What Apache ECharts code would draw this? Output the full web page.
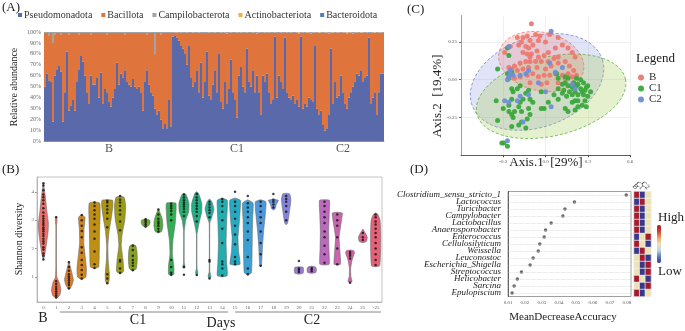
<!DOCTYPE html>
<html>
<head>
<meta charset="utf-8">
<script src="https://cdn.jsdelivr.net/npm/echarts@6/dist/echarts.min.js"></script>
<style>
  html, body { margin: 0; padding: 0; background: #fff; }
  #chart { width: 685px; height: 331px; }
</style>
</head>
<body>
<div id="chart"></div>
<script>
var SERIF = "'Liberation Serif', 'Times New Roman', serif";

// ---------- (A) relative abundance per sample (%) ----------
var phylumNames = ['Pseudomonadota', 'Bacillota', 'Campilobacterota', 'Actinobacteriota', 'Bacteroidota'];
var groupNames = ['B', 'C1', 'C2'];

var pseudoB = [50,62,56,55,18,60,66,69,64,18,
  45,82,28,33,38,28,55,66,78,73,
  60,45,35,60,52,52,58,40,63,35,
  48,45,36,32,40,48,72,52,62,58,
  65,55,52,50,57,50,48,50,45,28,
  55,65,52,45,42,30,25,28,20,12,
  16,12,38,14];
var pseudoC1 = [96,97,95,92,88,85,80,70,88,58,
  50,55,65,45,72,40,55,82,42,38,
  52,65,45,80,36,30,55,35,48,75,
  45,38,22,60,68,50,45,85,55,50,
  65,45,60,45,25,60,55,62,45,35,
  38,96,40,60,55,48,95,45,40,38,
  42,35,38,32,96];
var pseudoC2 = [30,35,32,40,38,36,88,30,25,28,
  15,10,12,25,85,35,55,40,42,60,
  45,35,30,40,45,50,55,62,60,65,
  55,58,60,95,35,40,45,25,45,62,
  62];

var campiloB = [1,1,3,1,10,2,1,1,2,1,
  1,1,2,1,1,1,1,2,1,1,
  1,1,1,2,1,1,1,1,1,1,
  1,2,1,1,1,1,1,1,1,1,
  2,1,1,1,1,1,1,1,1,1,
  1,2,1,1,1,20,1,1,2,1,
  1,1,1,1];
var campiloC1 = [1,0.5,0.5,1,0.5,1,1,0.5,1,1,
  0.5,1,1,0.5,1,0.5,1,1,0.5,1,
  1,0.5,1,1,0.5,1,0.5,1,1,0.5,
  1,1,0.5,1,0.5,1,1,0.5,1,1,
  0.5,1,1,0.5,1,1,0.5,1,0.5,1,
  1,0.5,1,1,0.5,1,1,0.5,1,0.5,
  1,1,0.5,1,1];
var campiloC2 = [0.5,1,0.5,0.5,1,0.5,0.5,1,0.5,0.5,
  1,0.5,0.5,1,0.5,0.5,1,0.5,0.5,1,
  0.5,0.5,1,0.5,0.5,1,0.5,0.5,1,0.5,
  0.5,1,0.5,0.5,1,0.5,0.5,1,0.5,0.5,
  1];

var actinoB = [0,0,0,0,0,0,0,0,0,0, 0,0,0,0,0,0,0,0,0,0, 0,0,0,0,0,0,0,0,0,0,
  0,0,0,0,0,0,0,0,0,0, 0,0,0,0,0,0,0,0,0,0, 0,0,0,0,0,0,0,0,0,0, 0,0,0,0];
var actinoC1 = [0,0,0,0,0,0,0,0,0,0, 0,0,0,0,0,0,0,0,0,0, 0,0,0,0,0,0,0,0,0,0,
  0,0,0,0,0,0,0,0,0,0, 0,0,0,0,0,0,0,0,0,0, 0,0,0,0,0,0,0,0,0,0, 0,0,0,0.5,0];
var actinoC2 = [0,0,0.5,0,0,0,0,0,0.5,0, 0,0,0,0,0,0.5,0,0,0,0,
  0,0,0.5,0,0,0,0,0,0,0.5, 0,0,0,0,0,0,0.5,0,0,0, 0];
var bacteroB = [0,0,0,0,0,0,0,0,0,0, 0,0,0,0,0,0,0,0,0,0, 0,0,0,0,0,0,0,0,0,0,
  0,0,0,0,0,0,0,0,0,0, 0,0,0,0,0,0,0,0,0,0, 0,0,0,0,0,0,0,0,0,0, 0,0,0,0];
var bacteroC1 = [0,0,0,0,0,0,0,0,0,0, 0,0,0,0,0,0.5,0,0,0,0, 0,0,0,0,0,0,0,0.5,0,0,
  0,0,0,0,0,0,0,0,0,0, 0,0,0.5,0,0,0,0,0,0,0, 0,0,0,0,0,0,0,0,0,0, 0,0,0,0,0];
var bacteroC2 = [0,0,0,0,0.5,0,0,0,0,0, 0,0,0,0.5,0,0,0,0,0,0,
  0,0,0,0,0,0.5,0,0,0,0, 0,0,0,0.5,0,0,0,0,0,0, 0];

// ---------- (B) Shannon diversity by day ----------
var days = ['0','1','2','3','4','5','6','7','8','9','10','11','12','13','14','15','16','17','18','19','20','21','22','23','24','25','>25'];
// violin outline: [shannon value, relative half width]
var violinProfiles = [
  [[1.6,0],[1.8,0.25],[2.2,0.55],[2.6,0.8],[2.9,0.85],[3.3,0.6],[3.8,0.35],[4.1,0.15],[4.3,0]],
  [[0.25,0],[0.35,0.6],[0.55,0.8],[0.8,0.55],[1.0,0.12],[1.5,0.05],[2.8,0.05],[3.0,0.15],[3.15,0]],
  [[0.55,0],[0.7,0.5],[0.9,0.75],[1.1,0.55],[1.35,0.25],[1.55,0]],
  [[0.9,0],[1.0,0.7],[1.3,0.8],[1.7,0.6],[2.2,0.35],[2.7,0.4],[3.1,0.55],[3.2,0]],
  [[1.3,0],[1.35,0.7],[1.8,0.8],[2.5,0.85],[3.2,0.95],[3.6,0.9],[3.65,0]],
  [[0.75,0],[0.85,0.3],[1.1,0.35],[1.6,0.15],[2.1,0.1],[2.6,0.3],[3.1,0.7],[3.5,0.95],[3.7,0.9],[3.72,0]],
  [[1.1,0],[1.2,0.6],[1.6,0.5],[2.1,0.2],[2.5,0.35],[3.0,0.8],[3.5,0.95],[3.8,0.7],[3.85,0]],
  [[1.2,0],[1.3,0.6],[1.6,0.75],[1.9,0.7],[2.1,0.5],[2.15,0]],
  [[2.75,0],[2.8,0.5],[2.9,0.75],[3.0,0.7],[3.05,0]],
  [[2.55,0],[2.6,0.55],[2.8,0.75],[3.0,0.7],[3.2,0.4],[3.4,0]],
  [[1.05,0],[1.1,0.45],[1.4,0.45],[1.8,0.2],[2.3,0.3],[2.9,0.7],[3.4,0.85],[3.6,0.8],[3.62,0]],
  [[1.3,0],[1.35,0.2],[1.5,0.05],[2.6,0.05],[3.0,0.3],[3.3,0.8],[3.6,0.85],[3.9,0.35],[3.95,0]],
  [[1.05,0],[1.15,0.2],[1.3,0.05],[2.5,0.05],[2.9,0.4],[3.3,0.85],[3.6,0.85],[3.95,0.3],[4.0,0]],
  [[0.95,0],[1.0,0.25],[1.2,0.05],[2.9,0.05],[3.1,0.4],[3.4,0.75],[3.65,0.4],[3.75,0]],
  [[1.0,0],[1.05,0.85],[1.5,0.75],[2.2,0.65],[3.0,0.75],[3.7,0.85],[3.78,0]],
  [[1.42,0],[1.45,0.85],[1.9,0.6],[2.4,0.5],[3.0,0.75],[3.7,0.9],[3.78,0]],
  [[1.07,0],[1.15,0.6],[1.6,0.7],[2.3,0.75],[3.0,0.8],[3.6,0.9],[3.72,0]],
  [[1.36,0],[1.4,0.15],[2.0,0.3],[2.6,0.5],[3.2,0.8],[3.65,0.9],[3.72,0]],
  [[3.36,0],[3.4,0.3],[3.55,0.5],[3.7,0.85],[3.74,0]],
  [[2.84,0],[2.9,0.25],[3.3,0.55],[3.7,0.8],[3.92,0.6],[3.95,0]],
  [[1.1,0],[1.13,0.7],[1.25,0.8],[1.34,0.7],[1.36,0]],
  [[1.13,0],[1.16,0.7],[1.28,0.8],[1.36,0.6],[1.38,0]],
  [[1.42,0],[1.45,0.8],[2.0,0.75],[2.6,0.7],[3.2,0.8],[3.7,0.85],[3.72,0]],
  [[1.42,0],[1.45,0.55],[1.9,0.45],[2.4,0.3],[2.9,0.65],[3.25,0.85],[3.28,0]],
  [[0.78,0],[0.85,0.35],[1.0,0.15],[1.3,0.1],[1.6,0.35],[1.85,0.75],[1.93,0.6],[1.95,0]],
  [[2.21,0],[2.25,0.6],[2.4,0.75],[2.55,0.4],[2.69,0]],
  [[1.36,0],[1.4,0.7],[2.0,0.85],[2.6,0.85],[3.0,0.75],[3.2,0.4],[3.25,0]]
];
var shannonPoints = [
  [1.62,1.75,1.83,1.97,2.05,2.18,2.26,2.35,2.44,2.52,2.61,2.68,2.74,2.83,2.9,2.98,3.06,3.15,3.27,3.42,3.58,3.7,3.81,3.9,4.05,4.22,4.3],
  [0.28,0.35,0.42,0.5,0.58,0.66,0.75,0.85,3.1],
  [0.6,0.72,0.8,0.88,0.95,1.02,1.1,1.22,1.35,1.52],
  [0.95,1.08,1.25,1.42,1.6,1.85,2.05,2.4,2.62,2.8,3.0,3.18],
  [1.32,1.45,1.9,2.35,2.6,2.85,3.05,3.2,3.35,3.5,3.62],
  [0.78,0.95,1.1,2.75,3.05,3.25,3.38,3.5,3.62,3.68],
  [1.15,1.3,1.55,1.6,2.65,2.95,3.2,3.35,3.5,3.62,3.72,3.85],
  [1.25,1.4,1.5,1.6,1.75,1.95,2.1],
  [2.78,2.85,2.92,2.98,3.03],
  [2.6,2.7,2.8,2.88,2.95,3.05,3.2,3.38],
  [1.08,1.15,1.35,1.6,3.0,3.2,3.32,3.42,3.5,3.58],
  [1.08,1.35,3.15,3.3,3.4,3.48,3.55,3.62,3.7,3.8,3.9],
  [1.07,2.95,3.15,3.3,3.4,3.5,3.6,3.7,3.8,3.92],
  [0.95,1.55,1.6,3.1,3.25,3.35,3.45,3.55,3.65],
  [1.05,1.3,1.45,1.55,2.2,2.7,3.0,3.3,3.5,3.65,3.75],
  [1.45,1.55,1.7,2.15,2.5,2.8,3.05,3.3,3.5,3.65,4.0],
  [1.1,1.3,1.7,2.3,2.6,2.9,3.1,3.3,3.45,3.6,3.85],
  [1.4,1.8,2.2,2.6,2.9,3.1,3.3,3.5,3.65],
  [3.45,3.55,3.65,3.72,3.92],
  [3.0,3.3,3.5,3.65,3.75,3.85],
  [1.18,1.25,1.3,1.56],
  [1.2,1.26,1.32],
  [1.5,1.8,2.1,2.4,2.6,2.9,3.1,3.3,3.5,3.65],
  [1.45,2.0,2.4,2.8,3.0,3.2],
  [0.8,1.65,1.75,1.82,1.88],
  [2.3,2.4,2.55],
  [1.42,1.6,1.8,2.0,2.2,2.4,2.55,2.7,2.85,2.95,3.1,3.2]
];

// ---------- (C) PCoA ----------
var pcoaB = [[-0.10,0.37],[-0.20,0.28],[-0.16,0.28],[-0.13,0.29],[-0.07,0.30],[-0.04,0.29],[0.03,0.30],[0.09,0.28],
  [-0.17,0.25],[-0.11,0.26],[-0.05,0.26],[0.00,0.25],[-0.19,0.23],[-0.14,0.22],[-0.12,0.21],[-0.09,0.23],
  [-0.06,0.19],[-0.10,0.17],[-0.13,0.17],[-0.16,0.18],[-0.11,0.15],[-0.05,0.15],[-0.01,0.16],[0.02,0.18],
  [0.07,0.21],[0.12,0.23],[0.16,0.21],[0.19,0.18],[0.21,0.15],[0.09,0.15],[0.06,0.14],[0.02,0.12],
  [-0.03,0.12],[-0.07,0.12],[-0.11,0.12],[-0.14,0.12],[-0.18,0.11],[-0.22,0.09],[-0.24,0.07],[-0.20,0.06],
  [-0.16,0.07],[-0.12,0.08],[-0.06,0.08],[0.00,0.07],[0.04,0.09],[0.09,0.11],[0.14,0.12],[0.17,0.09],
  [0.20,0.06],[0.16,0.04],[0.12,0.03],[0.07,0.04],[0.03,0.03],[-0.01,0.03],[-0.05,0.02],[-0.09,0.04],
  [-0.13,0.03],[-0.18,0.02],[-0.22,0.01],[-0.24,0.04],[-0.26,0.08],[-0.29,0.18],[-0.25,0.22],[0.01,-0.02],
  [-0.03,-0.03],[-0.11,-0.02],[0.09,-0.02],[0.14,0.01],[0.19,0.02],[0.22,0.03]];
var pcoaC1 = [[-0.34,0.07],[-0.35,-0.14],[-0.34,-0.27],[-0.30,-0.19],[-0.26,-0.17],[-0.26,-0.21],[-0.24,-0.13],
  [-0.23,-0.08],[-0.20,-0.06],[-0.24,-0.23],[-0.23,-0.25],[-0.22,-0.21],[-0.19,-0.18],[-0.18,-0.15],[-0.16,-0.13],
  [-0.14,-0.09],[-0.17,-0.21],[-0.12,-0.19],[-0.11,-0.23],[-0.13,-0.26],[-0.17,-0.28],[-0.19,-0.30],[-0.24,-0.31],
  [-0.14,-0.32],[-0.11,-0.13],[-0.09,-0.15],[-0.03,-0.19],[0.02,-0.15],[0.09,-0.13],[-0.24,-0.06],[-0.26,0.01],
  [-0.27,0.04],[-0.24,0.05],[-0.26,0.16],[-0.27,0.21],[-0.18,-0.04],[-0.12,-0.07],[-0.03,-0.08],
  [-0.31,-0.42],[-0.295,-0.42],[-0.27,-0.44],
  [0.09,0.01],[0.12,-0.03],[0.14,-0.02],[0.16,-0.04],[0.19,-0.05],[0.20,-0.06],[0.17,-0.08],[0.21,-0.08],
  [0.22,-0.04],[0.23,-0.03],[0.25,-0.06],[0.26,-0.08],[0.27,-0.10],[0.28,-0.07],[0.29,-0.05],[0.30,-0.11],
  [0.28,-0.14],[0.26,-0.17],[0.23,-0.18],[0.21,-0.20],[0.16,-0.21],[0.14,-0.19],[0.19,-0.15],[0.15,-0.11],
  [0.12,-0.09],[0.21,-0.14],[0.23,-0.10],[0.20,-0.02],[0.16,0.01],[0.30,-0.04],[0.27,-0.02],[0.25,0.00],
  [0.22,0.01],[0.14,0.02],[0.09,-0.06],[0.08,0.04],[0.13,-0.07],[0.19,-0.10],[0.23,-0.14],[0.29,-0.18],
  [0.32,-0.08],[-0.01,-0.19],[0.06,-0.10]];
var pcoaC2 = [[0.04,0.32],[-0.26,0.22],[-0.25,0.04],[-0.26,0.02],[-0.23,0.03],[-0.18,0.03],[-0.14,0.04],
  [-0.12,0.06],[-0.05,-0.02],[0.03,0.11],[0.12,0.08],[0.07,0.05],[0.19,-0.03],[0.21,-0.06],[0.00,-0.08],
  [-0.29,-0.14],[-0.26,-0.15],[-0.20,-0.14],[-0.18,-0.11],[-0.12,-0.10],[0.04,-0.18],[-0.16,-0.28],
  [-0.27,-0.405],[-0.27,0.00],[-0.25,0.06]];
// confidence ellipses: [centre x, centre y, semi-major, semi-minor, angle in degrees]
var ellipseC2 = [-0.06, -0.015, 0.487, 0.30, 17];
var ellipseC1 = [0.04, -0.11, 0.54, 0.262, 12];
var ellipseB = [-0.03, 0.12, 0.306, 0.194, -11];

// ---------- (D) random forest importance ----------
var genera = ['Clostridium_sensu_stricto_1','Lactococcus','Turicibacter','Campylobacter','Lactobacillus',
  'Anaerosporobacter','Enterococcus','Cellulosilyticum','Weissella','Leuconostoc','Escherichia_Shigella',
  'Streptococcus','Helicobacter','Sarcina','Epulopiscium'];
var meanDecrease = [0.0796,0.0491,0.0435,0.0423,0.0354,0.0321,0.0313,0.0287,0.0278,0.0248,0.0230,0.0179,0.0155,0.0136,0.0124];
// relative abundance level per group: 1 high, 0 middle, -1 low
var levelB = [1,-1,1,1,1,1,-1,1,-1,0,0,0,1,0,1];
var levelC1 = [-1,1,-1,-1,-1,-1,0,0,1,1,-1,-1,0,-1,-1];
var levelC2 = [0,0,0,0,0,0,1,-1,0,-1,1,1,-1,1,0];

// ---------- derived tables ----------
var pseudo = pseudoB.concat(pseudoC1, pseudoC2);
var campilo = campiloB.concat(campiloC1, campiloC2);
var actino = actinoB.concat(actinoC1, actinoC2);
var bactero = bacteroB.concat(bacteroC1, bacteroC2);
var bacillota = pseudo.map(function (v, i) {
  return +(100 - v - campilo[i] - actino[i] - bactero[i]).toFixed(2);
});
var sampleIds = pseudo.map(function (v, i) { return 'S' + (i + 1); });
var groupLens = [pseudoB.length, pseudoC1.length, pseudoC2.length];
var groupStart = [0, groupLens[0], groupLens[0] + groupLens[1]];
var groupMid = groupStart.map(function (s, k) { return s + Math.floor(groupLens[k] / 2); });
function groupOf(i) { return i < groupStart[1] ? 0 : (i < groupStart[2] ? 1 : 2); }

var shannonDots = [];
shannonPoints.forEach(function (arr, d) {
  arr.forEach(function (v) { shannonDots.push([d, v]); });
});
var ellipses = [ellipseC2, ellipseC1, ellipseB];
var heatData = [];
[levelB, levelC1, levelC2].forEach(function (col, c) {
  col.forEach(function (v, r) { heatData.push([c, r, v]); });
});

// ---------- styles ----------
var phylumColors = ['#5a69a9', '#df743d', '#a3a3a3', '#f2b13a', '#4f7cc4'];
var dayColors = ['#ef6f6a','#e9724a','#dc7d2c','#cf8620','#bf8f14','#ad9512','#9c9b16','#86a020','#6ea72c',
  '#4fac3c','#34ae55','#27ae6e','#22af86','#22af9c','#22adb0','#26a9c2','#3aa1d2','#4d98dc','#6a8ee0',
  '#8484dc','#9a7bd4','#ac72ca','#bb6abd','#c865ae','#d5619e','#df5f8c','#e66079'];
var groupColors = ['#ec7a70', '#3aa83c', '#6f8fd6'];
var ellipseFill = ['rgba(120,128,220,0.22)', 'rgba(160,205,80,0.28)', 'rgba(240,110,100,0.22)'];
var ellipseStroke = ['#6f7fd0', '#5cae3c', '#e8736c'];

var myChart = echarts.init(document.getElementById('chart'));

var barSeries = [pseudo, bacillota, campilo, actino, bactero].map(function (arr, k) {
  return {
    name: phylumNames[k], type: 'bar', stack: 'abund', data: arr,
    xAxisIndex: 0, yAxisIndex: 0, barCategoryGap: '0%',
    itemStyle: { color: phylumColors[k] }, silent: true
  };
});

function txt(x, y, s, size, opts) {
  var o = {
    type: 'text', x: x, y: y, silent: true,
    style: { text: s, fontFamily: SERIF, fontSize: size, fill: '#222',
      align: 'center', verticalAlign: 'middle', textAlign: 'center', textVerticalAlign: 'middle' }
  };
  if (opts) {
    if (opts.rotation) o.rotation = opts.rotation;
    if (opts.align) { o.style.align = opts.align; o.style.textAlign = opts.align; }
    if (opts.fill) o.style.fill = opts.fill;
  }
  return o;
}

var otherSeries = [
  {
    type: 'custom', xAxisIndex: 1, yAxisIndex: 1, silent: true,
    data: days.map(function (d, i) { return [i, 0]; }),
    renderItem: function (params, api) {
      var i = api.value(0);
      var prof = violinProfiles[i];
      var cx = api.coord([i, 1])[0];
      var half = api.size([1, 0])[0] * 0.46;
      var right = [], left = [];
      prof.forEach(function (p) {
        var y = api.coord([i, p[0]])[1];
        right.push([cx + p[1] * half, y]);
        left.unshift([cx - p[1] * half, y]);
      });
      return {
        type: 'polygon', shape: { points: right.concat(left), smooth: 0.15 },
        style: { fill: dayColors[i], stroke: '#6a6a6a', lineWidth: 0.6 }
      };
    }
  },
  {
    type: 'scatter', xAxisIndex: 1, yAxisIndex: 1, data: shannonDots, symbolSize: 2.5,
    itemStyle: { color: '#111' }, silent: true, z: 3
  },
  {
    type: 'custom', xAxisIndex: 2, yAxisIndex: 2, silent: true, z: 1,
    data: ellipses.map(function (e) { return [e[0], e[1]]; }),
    renderItem: function (params, api) {
      var e = ellipses[params.dataIndex];
      var t = e[4] * Math.PI / 180;
      var pts = [];
      for (var k = 0; k < 90; k++) {
        var u = k / 90 * 2 * Math.PI;
        var ex = e[2] * Math.cos(u), ey = e[3] * Math.sin(u);
        pts.push(api.coord([e[0] + ex * Math.cos(t) - ey * Math.sin(t),
                            e[1] + ex * Math.sin(t) + ey * Math.cos(t)]));
      }
      return {
        type: 'polygon', shape: { points: pts },
        style: { fill: ellipseFill[params.dataIndex], stroke: ellipseStroke[params.dataIndex],
          lineWidth: 0.8, lineDash: [3, 2] }
      };
    }
  },
  { name: 'B', type: 'scatter', xAxisIndex: 2, yAxisIndex: 2, data: pcoaB, symbolSize: 5, z: 3,
    itemStyle: { color: groupColors[0], opacity: 0.95 }, silent: true },
  { name: 'C1', type: 'scatter', xAxisIndex: 2, yAxisIndex: 2, data: pcoaC1, symbolSize: 5, z: 3,
    itemStyle: { color: groupColors[1], opacity: 0.95 }, silent: true },
  { name: 'C2', type: 'scatter', xAxisIndex: 2, yAxisIndex: 2, data: pcoaC2, symbolSize: 5, z: 4,
    itemStyle: { color: groupColors[2], opacity: 0.95 }, silent: true },
  {
    type: 'scatter', xAxisIndex: 3, yAxisIndex: 3, symbolSize: 3.5, silent: true,
    data: meanDecrease.map(function (v, i) { return [v, genera[i]]; }),
    itemStyle: { color: '#444' },
    markLine: {
      symbol: 'none', silent: true, label: { show: false },
      lineStyle: { color: '#c8c8c8', width: 0.6, type: 'dotted' },
      data: genera.map(function (g) { return { yAxis: g }; })
    }
  },
  {
    type: 'heatmap', xAxisIndex: 4, yAxisIndex: 4, data: heatData, silent: true,
    itemStyle: { borderColor: '#f4f4f4', borderWidth: 0.7 }
  }
];
var allSeries = barSeries.concat(otherSeries);
var heatIndex = allSeries.length - 1;

option = {
  animation: false,
  backgroundColor: '#fff',
  legend: [
    {
      data: phylumNames, left: 18, top: 10, padding: 0, icon: 'rect',
      itemWidth: 4, itemHeight: 4, itemGap: 9, selectedMode: false,
      textStyle: { fontFamily: SERIF, fontSize: 10, color: '#333', padding: [0, 0, 0, -3] }
    },
    {
      data: groupNames, orient: 'vertical', left: 638, top: 72, padding: 0, icon: 'circle',
      itemWidth: 6, itemHeight: 6, itemGap: 0, selectedMode: false,
      textStyle: { fontFamily: SERIF, fontSize: 11, color: '#333', lineHeight: 11 }
    }
  ],
  grid: [
    { left: 44, right: 301, top: 32, bottom: 189.5, outerBoundsMode: 'none' },
    { left: 37, right: 303, top: 177, bottom: 29, show: true, borderColor: '#b5b5b5', borderWidth: 0.8, outerBoundsMode: 'none' },
    { left: 461, right: 55, top: 15.5, bottom: 175.8, outerBoundsMode: 'none' },
    { left: 508, right: 54, top: 191.5, bottom: 34.5, show: true, borderColor: '#888', borderWidth: 0.8, outerBoundsMode: 'none' },
    { left: 634, right: 34, top: 191.5, bottom: 34.5, outerBoundsMode: 'none' }
  ],
  xAxis: [
    {
      gridIndex: 0, type: 'category', data: sampleIds,
      axisLine: { lineStyle: { color: '#a9b3d6', width: 1 } },
      axisTick: { length: 4, lineStyle: { color: '#666' },
        interval: function (i) { return groupStart.indexOf(i) >= 0; } },
      axisLabel: { margin: 1, fontFamily: SERIF, fontSize: 12, color: '#555',
        interval: function (i) { return groupMid.indexOf(i) >= 0; },
        formatter: function (v, i) { return groupNames[groupOf(i)]; } }
    },
    {
      gridIndex: 1, type: 'category', data: days,
      axisLine: { lineStyle: { color: '#aaa', width: 0.8 } },
      axisTick: { alignWithLabel: true, length: 2, lineStyle: { color: '#999' } },
      axisLabel: { margin: 3, fontFamily: SERIF, fontSize: 5, color: '#666', interval: 0 }
    },
    {
      gridIndex: 2, type: 'value', min: -0.6, max: 0.6, interval: 0.15,
      axisLine: { onZero: false, lineStyle: { color: '#333', width: 0.8 } },
      axisTick: { length: 2, customValues: [-0.3, 0, 0.3, 0.6], lineStyle: { color: '#444' } },
      axisLabel: { customValues: [-0.3, 0, 0.3, 0.6], margin: 4, fontFamily: SERIF, fontSize: 5, color: '#555',
        formatter: function (v) { return v.toFixed(1); } },
      splitLine: { show: true, lineStyle: { color: '#e6e6e6', width: 0.6 } }
    },
    {
      gridIndex: 3, type: 'value', min: 0.01, max: 0.0824, interval: 0.01,
      axisLine: { lineStyle: { color: '#444', width: 0.8 } },
      axisTick: { length: 2, lineStyle: { color: '#666' } },
      axisLabel: { margin: 4, fontFamily: SERIF, fontSize: 5, color: '#555', showMaxLabel: false,
        formatter: function (v) { return v.toFixed(2); } },
      splitLine: { show: false }
    },
    {
      gridIndex: 4, type: 'category', data: groupNames, position: 'top',
      axisLine: { show: false }, axisTick: { show: false },
      axisLabel: { rotate: 45, margin: 3, interval: 0, fontFamily: SERIF, fontSize: 7, color: '#333' }
    }
  ],
  yAxis: [
    {
      gridIndex: 0, type: 'value', min: 0, max: 100, interval: 10,
      axisLine: { show: false }, axisTick: { show: false }, splitLine: { show: false },
      axisLabel: { margin: 3, fontFamily: SERIF, fontSize: 6, color: '#666', formatter: '{value}%' }
    },
    {
      gridIndex: 1, type: 'value', min: 0.12, max: 4.52,
      axisLine: { show: true, lineStyle: { color: '#aaa', width: 0.8 } },
      axisTick: { show: true, length: 2, customValues: [1, 2, 3, 4], lineStyle: { color: '#999' } },
      axisLabel: { customValues: [1, 2, 3, 4], margin: 3, fontFamily: SERIF, fontSize: 5, color: '#666' },
      splitLine: { show: false }
    },
    {
      gridIndex: 2, type: 'value', min: -0.5, max: 0.425, interval: 0.125,
      axisLine: { show: true, onZero: false, lineStyle: { color: '#888', width: 0.8 } },
      axisTick: { show: true, length: 2, customValues: [-0.25, 0, 0.25], lineStyle: { color: '#666' } },
      axisLabel: { customValues: [-0.25, 0, 0.25], margin: 4, fontFamily: SERIF, fontSize: 5, color: '#555',
        formatter: function (v) { return v.toFixed(2); } },
      splitLine: { show: true, lineStyle: { color: '#e6e6e6', width: 0.6 } }
    },
    {
      gridIndex: 3, type: 'category', data: genera, inverse: true,
      axisLine: { lineStyle: { color: '#444', width: 0.8 } }, axisTick: { show: false },
      axisLabel: { margin: 7, fontFamily: SERIF, fontStyle: 'italic', fontSize: 9, color: '#222', interval: 0 }
    },
    {
      gridIndex: 4, type: 'category', data: genera, inverse: true,
      axisLine: { show: false }, axisTick: { show: false }, axisLabel: { show: false }
    }
  ],
  visualMap: [{
    type: 'continuous', seriesIndex: heatIndex, min: -1, max: 1, calculable: false,
    orient: 'vertical', left: 657, top: 225, itemWidth: 4, itemHeight: 38, padding: 0,
    text: null, showLabel: false,
    inRange: { color: ['#38388c', '#5c7db8', '#b6d8e4', '#ece2b6', '#f2a062', '#d0402e', '#a31c2e'] }
  }],
  series: allSeries,
  graphic: [
    txt(2, 8, '(A)', 13, { align: 'left' }),
    txt(2, 170, '(B)', 13, { align: 'left' }),
    txt(407, 10, '(C)', 13, { align: 'left' }),
    txt(410, 170, '(D)', 13, { align: 'left' }),
    txt(14, 87, 'Relative abundance', 10, { rotation: Math.PI / 2 }),
    txt(19, 239, 'Shannon diversity', 10, { rotation: Math.PI / 2 }),
    { type: 'line', silent: true, shape: { x1: 60, y1: 312, x2: 228, y2: 312 }, style: { stroke: '#888', lineWidth: 1 } },
    { type: 'line', silent: true, shape: { x1: 235, y1: 312, x2: 381, y2: 312 }, style: { stroke: '#888', lineWidth: 1 } },
    txt(43, 318, 'B', 14),
    txt(138, 320, 'C1', 14),
    txt(221, 323, 'Days', 14),
    txt(312, 320, 'C2', 14),
    txt(546, 163, 'Axis.1  [29%]', 13),
    txt(438, 96, 'Axis.2  [19.4%]', 13, { rotation: Math.PI / 2 }),
    txt(636, 59, 'Legend', 13, { align: 'left' }),
    txt(563, 317, 'MeanDecreaseAccuracy', 11),
    txt(658, 218, 'High', 13, { align: 'left' }),
    txt(658, 272, 'Low', 13, { align: 'left' })
  ]
};

myChart.setOption(option);
</script>
</body>
</html>
